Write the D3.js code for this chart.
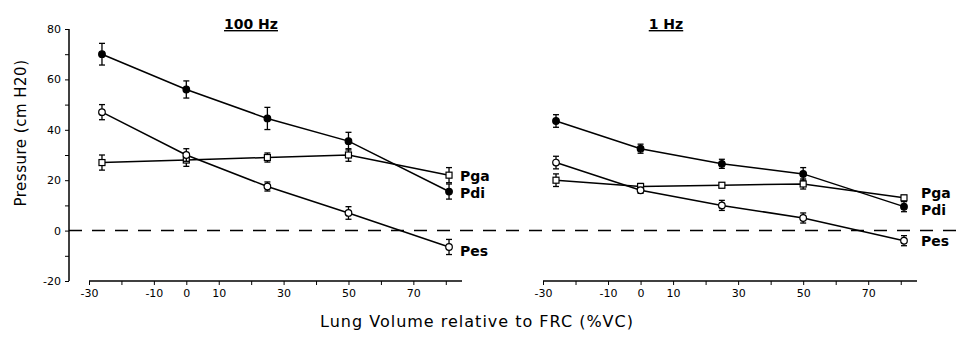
<!DOCTYPE html>
<html>
<head>
<meta charset="utf-8">
<script src="https://cdn.jsdelivr.net/npm/d3@7"></script>
<style>
  body { margin: 0; background: #fff; }
  svg text { font-family: "DejaVu Sans", Verdana, sans-serif; fill: #000; }
</style>
</head>
<body>
<div id="chart"></div>
<script>
const width = 957;
const height = 346;

// lung volume (%VC) of each measurement
const volumes = [-26, 0, 25, 50, 81];

// 100 Hz panel
const pdi100 = [70, 56, 44.5, 35.5, 15.5];
const pdi100Err = [4.3, 3.4, 4.4, 3.5, 3];
const pes100 = [47, 30, 17.5, 7, -6.5];
const pes100Err = [3, 2.5, 1.8, 2.5, 3];
const pga100 = [27, 28, 29, 30, 22];
const pga100Err = [3, 2.5, 1.8, 2.5, 3];

// 1 Hz panel
const pdi1 = [43.5, 32.5, 26.5, 22.5, 9.5];
const pdi1Err = [2.5, 1.8, 1.8, 2.5, 2];
const pes1 = [27, 16, 10, 5, -4];
const pes1Err = [2.5, 1.2, 2, 2, 2];
const pga1 = [20, 17.5, 18, 18.5, 13];
const pga1Err = [2.5, 1.2, 1, 2, 1];

const xTicks = [-30, -20, -10, 0, 10, 20, 30, 40, 50, 60, 70, 80];
const xLabels = [-30, -10, 0, 10, 30, 50, 70];
const yTicks = [-20, -10, 0, 10, 20, 30, 40, 50, 60, 70, 80];
const yLabels = [-20, 0, 20, 40, 60, 80];

const panels = [
  { title: "100 Hz", titleX: 251, range: [89, 462], pdi: pdi100, pdiErr: pdi100Err, pes: pes100, pesErr: pes100Err, pga: pga100, pgaErr: pga100Err,
    labelX: 460, labelY: { Pga: 181, Pdi: 198, Pes: 256 } },
  { title: "1 Hz", titleX: 666, range: [543, 917], pdi: pdi1, pdiErr: pdi1Err, pes: pes1, pesErr: pes1Err, pga: pga1, pgaErr: pga1Err,
    labelX: 921, labelY: { Pga: 198, Pdi: 215, Pes: 246 } }
];

const svg = d3.select("#chart").append("svg")
  .attr("width", width)
  .attr("height", height);

const y = d3.scaleLinear().domain([-20, 80]).range([281, 29]);

// y axis (left panel only)
const yAxis = svg.append("g")
  .attr("transform", "translate(69,0)")
  .call(d3.axisLeft(y).tickValues(yTicks).tickSize(4)
    .tickFormat(d => yLabels.includes(d) ? d : ""));
yAxis.select(".domain").attr("d", "M0," + y(80) + "V" + y(-20)).attr("stroke-width", 1.5);
yAxis.selectAll("text").attr("font-size", 11).attr("dx", -1);

svg.append("text")
  .attr("transform", "translate(26,133) rotate(-90)")
  .attr("text-anchor", "middle")
  .attr("font-size", 15)
  .attr("letter-spacing", 0.5)
  .text("Pressure (cm H20)");

// zero reference line across both panels
svg.append("line")
  .attr("x1", 69).attr("x2", width)
  .attr("y1", y(0)).attr("y2", y(0))
  .attr("stroke", "#000").attr("stroke-width", 1.5)
  .attr("stroke-dasharray", "13,10");

const line = d3.line();

panels.forEach(p => {
  const x = d3.scaleLinear().domain([-30, 85]).range(p.range);

  const xAxis = svg.append("g")
    .attr("transform", "translate(0,281)")
    .call(d3.axisBottom(x).tickValues(xTicks).tickSize(4)
      .tickFormat(d => xLabels.includes(d) ? d : ""));
  xAxis.select(".domain").attr("d", "M" + p.range[0] + ",0H" + p.range[1]).attr("stroke-width", 1.5);
  xAxis.selectAll("text").attr("font-size", 11).attr("dy", "0.85em");

  svg.append("text")
    .attr("x", p.titleX).attr("y", 29)
    .attr("text-anchor", "middle")
    .attr("font-size", 14).attr("font-weight", "bold")
    .attr("text-decoration", "underline")
    .text(p.title);

  const series = [
    { name: "Pga", vals: p.pga, err: p.pgaErr, shape: "square", fill: "#fff" },
    { name: "Pes", vals: p.pes, err: p.pesErr, shape: "circle", fill: "#fff" },
    { name: "Pdi", vals: p.pdi, err: p.pdiErr, shape: "circle", fill: "#000" }
  ];

  series.forEach(s => {
    const pts = volumes.map((v, i) => [x(v), y(s.vals[i])]);
    svg.append("path")
      .attr("d", line(pts))
      .attr("fill", "none").attr("stroke", "#000").attr("stroke-width", 1.5);

    const g = svg.append("g").selectAll("g")
      .data(volumes.map((v, i) => ({ v: v, val: s.vals[i], e: s.err[i] })))
      .join("g")
      .attr("transform", d => "translate(" + x(d.v) + ",0)");

    g.append("line")
      .attr("y1", d => y(d.val + d.e)).attr("y2", d => y(d.val - d.e))
      .attr("stroke", "#000").attr("stroke-width", 1.3);
    g.append("line")
      .attr("x1", -3).attr("x2", 3)
      .attr("y1", d => y(d.val + d.e)).attr("y2", d => y(d.val + d.e))
      .attr("stroke", "#000").attr("stroke-width", 1.3);
    g.append("line")
      .attr("x1", -3).attr("x2", 3)
      .attr("y1", d => y(d.val - d.e)).attr("y2", d => y(d.val - d.e))
      .attr("stroke", "#000").attr("stroke-width", 1.3);

    if (s.shape === "square") {
      g.append("rect")
        .attr("x", -3).attr("width", 6).attr("height", 6)
        .attr("y", d => y(d.val) - 3)
        .attr("fill", s.fill).attr("stroke", "#000").attr("stroke-width", 1.2);
    } else {
      g.append("circle")
        .attr("cy", d => y(d.val)).attr("r", 3.3)
        .attr("fill", s.fill).attr("stroke", "#000").attr("stroke-width", 1.2);
    }

    svg.append("text")
      .attr("x", p.labelX).attr("y", p.labelY[s.name])
      .attr("font-family", "'Liberation Sans', Arial, sans-serif")
      .attr("font-size", 14).attr("font-weight", "bold")
      .text(s.name);
  });
});

svg.append("text")
  .attr("x", 477).attr("y", 327)
  .attr("text-anchor", "middle")
  .attr("font-size", 16)
  .attr("letter-spacing", 1)
  .text("Lung Volume relative to FRC (%VC)");
</script>
</body>
</html>
